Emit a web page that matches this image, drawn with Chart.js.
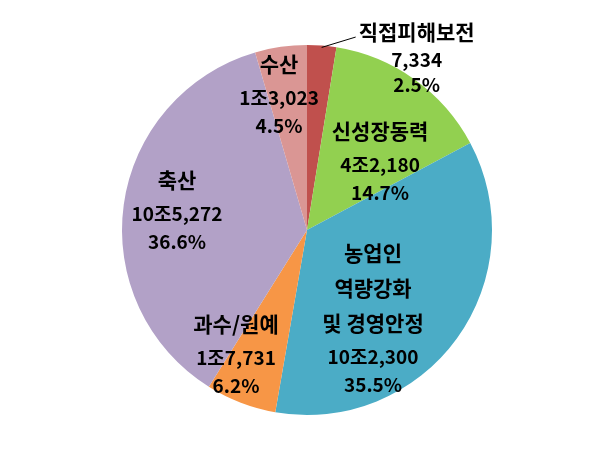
<!DOCTYPE html>
<html>
<head>
<meta charset="utf-8">
<script src="https://cdn.jsdelivr.net/npm/chart.js@4"></script>
<style>
    html, body { margin: 0; padding: 0; background: #fff; }
    #wrap { width: 613px; height: 451px; }
</style>
</head>
<body>
<div id="wrap"><canvas id="pieChart" width="613" height="451"></canvas></div>
<script>
// Data
const categories = ['직접피해보전', '신성장동력', '농업인\n역량강화\n및 경영안정', '과수/원예', '축산', '수산'];
const amounts = [7334, 42180, 102300, 17731, 105272, 13023];
const amountLabels = ['7,334', '4조2,180', '10조2,300', '1조7,731', '10조5,272', '1조3,023'];
const percentLabels = ['2.5%', '14.7%', '35.5%', '6.2%', '36.6%', '4.5%'];
const sliceColors = ['#C0504D', '#92D050', '#4BACC6', '#F79646', '#B2A1C7', '#DA9694'];

// Where each label block sits: [angle clockwise from top in degrees, fraction of radius]
const labelAnchors = [[32.6, 1.10], [47, 0.54], [143.5, 0.60], [209.6, 0.777], [278.3, 0.71], [348.3, 0.745]];

const FONT = '"Noto Sans CJK KR", "Malgun Gothic", sans-serif';

// Draw the text blocks (and the one leader line) on top of the slices
const sliceLabels = {
    id: 'sliceLabels',
    afterDatasetsDraw(chart) {
        const ctx = chart.ctx;
        const arcs = chart.getDatasetMeta(0).data;
        ctx.save();
        ctx.fillStyle = '#000';
        ctx.textAlign = 'center';
        ctx.textBaseline = 'middle';
        arcs.forEach((arc, i) => {
            const [deg, frac] = labelAnchors[i];
            const a = deg * Math.PI / 180;
            const cx = arc.x + Math.sin(a) * arc.outerRadius * frac;
            const cy = arc.y - Math.cos(a) * arc.outerRadius * frac;
            const nameLines = categories[i].split('\n');
            const outside = frac > 1;
            const lines = nameLines.map(t => ({ t, size: 21 }))
                .concat([{ t: amountLabels[i], size: 19 }, { t: percentLabels[i], size: 19 }]);
            const gaps = lines.map((l, k) => {
                if (k === 0) return 0;
                if (k < nameLines.length) return 35;
                if (k === nameLines.length) return outside ? 28 : 34;
                return outside ? 25 : 28;
            });
            const total = gaps.reduce((s, g) => s + g, 0);
            let y = cy - total / 2;
            lines.forEach((l, k) => {
                y += gaps[k];
                ctx.font = 'bold ' + l.size + 'px ' + FONT;
                ctx.fillText(l.t, cx, y);
            });
            if (outside) {
                // leader line from the slice edge to the outside label
                ctx.font = 'bold 21px ' + FONT;
                const w = ctx.measureText(nameLines[0]).width;
                const mid = (arc.startAngle + arc.endAngle) / 2;
                const sx = arc.x + Math.cos(mid) * arc.outerRadius * 0.99;
                const sy = arc.y + Math.sin(mid) * arc.outerRadius * 0.99;
                ctx.beginPath();
                ctx.strokeStyle = '#000';
                ctx.lineWidth = 1;
                ctx.moveTo(sx, sy);
                ctx.lineTo(cx - w / 2 - 3, cy - total / 2 + 5);
                ctx.stroke();
            }
        });
        ctx.restore();
    }
};

new Chart(document.getElementById('pieChart'), {
    type: 'pie',
    data: {
        labels: categories,
        datasets: [{
            data: amounts,
            backgroundColor: sliceColors,
            borderWidth: 0
        }]
    },
    options: {
        responsive: false,
        animation: false,
        rotation: 0,
        layout: { padding: { top: 45, bottom: 36, left: 1, right: 0 } },
        plugins: {
            legend: { display: false },
            tooltip: { enabled: false }
        }
    },
    plugins: [sliceLabels]
});
</script>
</body>
</html>
